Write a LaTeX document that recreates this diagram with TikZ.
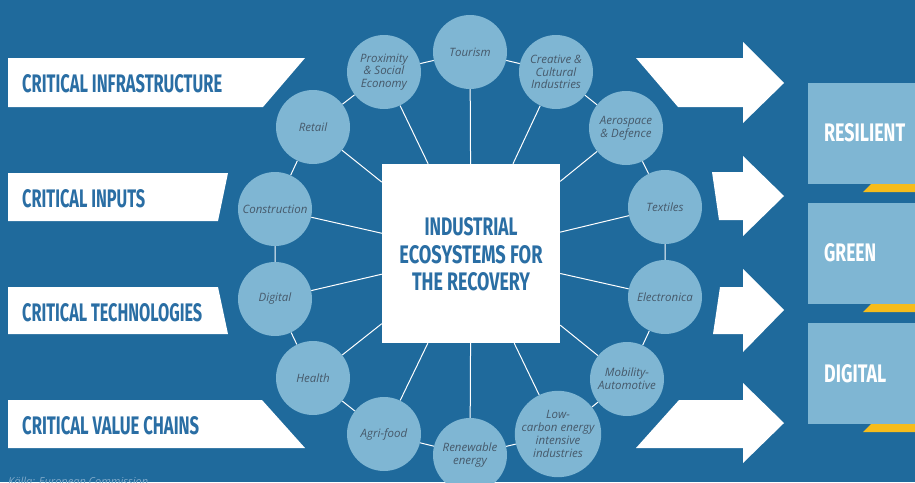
\documentclass[tikz,border=0pt]{standalone}
\usepackage{fontspec}
\setmainfont{Open Sans}
\newfontfamily\titlefont{Fira Sans}
\usepackage{graphicx}
\definecolor{bgblue}{HTML}{1F6A9C}
\definecolor{circ}{HTML}{7FB6D3}
\definecolor{txtblue}{HTML}{2A6EA4}
\definecolor{ctxt}{HTML}{46596A}
\definecolor{ylw}{HTML}{F6BC1C}
\definecolor{srccol}{HTML}{7FA9C9}
\newcommand\fitcaps[3]{\resizebox{#1pt}{#2pt}{\titlefont\bfseries #3}}
\pgfdeclarelayer{bg}
\pgfdeclarelayer{lines}
\pgfsetlayers{bg,lines,main}
\begin{document}
\begin{tikzpicture}[x=1pt,y=-1pt,
  eco/.style={circle,fill=circ,minimum size=74pt,inner sep=0pt,align=center,
    font=\fontsize{11.5}{12.8}\selectfont\itshape,text=ctxt},
  link/.style={draw=white,line width=1pt},
  banner/.style={fill=white},
  bigarrow/.style={fill=white},
  goal/.style={fill=circ},
  stripe/.style={fill=ylw},
  lbl/.style={inner sep=0pt,text=txtblue},
  wlbl/.style={inner sep=0pt,text=white,anchor=west},
  blbl/.style={inner sep=0pt,text=txtblue,anchor=west}]
\begin{pgfonlayer}{bg}
\fill[bgblue] (0,0) rectangle (915,482);
\end{pgfonlayer}
\useasboundingbox (0,0) rectangle (915,482);

% hub
\node[fill=white,minimum width=178pt,minimum height=179pt,inner sep=0pt] (hub) at (471,253.5) {};
\node[lbl] (h1) at (471,227) {\fitcaps{93}{18}{INDUSTRIAL}};
\node[lbl] (h2) at (471,254.5) {\fitcaps{143}{18}{ECOSYSTEMS FOR}};
\node[lbl] (h3) at (471,282) {\fitcaps{118}{18}{THE RECOVERY}};

% ecosystems
\node[eco] (tour) at (470,52) {Tourism};
\node[eco] (crea) at (556,72) {Creative \&\\Cultural\\Industries};
\node[eco] (aero) at (626,128) {Aerospace\\\& Defence};
\node[eco] (text) at (665,207) {Textiles};
\node[eco] (elec) at (665,297) {Electronica};
\node[eco] (mob) at (627,379) {Mobility-\\Automotive};
\node[eco] (low) at (558,434) {Low-\\carbon energy\\intensive\\industries};
\node[eco] (ren) at (470,455) {Renewable\\energy};
\node[eco] (agri) at (384,434) {Agri-food};
\node[eco] (heal) at (313,378) {Health};
\node[eco] (digi) at (275,299) {Digital};
\node[eco] (cons) at (275,209) {Construction};
\node[eco] (ret) at (313,127) {Retail};
\node[eco] (prox) at (384,72) {Proximity\\\& Social\\Economy};

\begin{pgfonlayer}{lines}
\foreach \n in {tour,crea,aero,text,elec,mob,low,ren,agri,heal,digi,cons,ret,prox}
  \draw[link] (hub) -- (\n);
\draw[link] (tour) -- (crea) -- (aero) -- (text) -- (elec) -- (mob) -- (low) -- (ren)
  -- (agri) -- (heal) -- (digi) -- (cons) -- (ret) -- (prox) -- (tour);
\end{pgfonlayer}

% left banners
\fill[banner] (8,58) -- (305,58) -- (263,107) -- (8,107) -- cycle;
\fill[banner] (8,173) -- (228,173) -- (218,221) -- (8,221) -- cycle;
\fill[banner] (8,287) -- (218,287) -- (228,334) -- (8,334) -- cycle;
\fill[banner] (8,400) -- (262,400) -- (305,448) -- (8,448) -- cycle;
\node[blbl] (b1) at (22,84) {\fitcaps{200}{18}{CRITICAL INFRASTRUCTURE}};
\node[blbl] (b2) at (22,199) {\fitcaps{123}{18}{CRITICAL INPUTS}};
\node[blbl] (b3) at (22,313) {\fitcaps{180}{18}{CRITICAL TECHNOLOGIES}};
\node[blbl] (b4) at (22,426) {\fitcaps{177}{18}{CRITICAL VALUE CHAINS}};

% right arrows
\fill[bigarrow] (636,58) -- (743,58) -- (743,42) -- (784,83) -- (743,123) -- (743,107) -- (678,107) -- cycle;
\fill[bigarrow] (712,172) -- (743,172) -- (743,156) -- (784,196) -- (743,236) -- (743,220) -- (719,220) -- cycle;
\fill[bigarrow] (720,287) -- (743,287) -- (743,269) -- (784,310) -- (743,352) -- (743,334) -- (713,334) -- cycle;
\fill[bigarrow] (679,400) -- (743,400) -- (743,383) -- (784,423) -- (743,463) -- (743,448) -- (636,448) -- cycle;

% goals
\fill[goal] (808,83) rectangle (915,184);
\fill[stripe] (871,184) -- (915,184) -- (915,192) -- (863,192) -- cycle;
\fill[goal] (808,203) rectangle (915,304);
\fill[stripe] (871,304) -- (915,304) -- (915,312) -- (863,312) -- cycle;
\fill[goal] (808,323) rectangle (915,424);
\fill[stripe] (871,424) -- (915,424) -- (915,432) -- (863,432) -- cycle;
\node[wlbl] (g1) at (824,133) {\fitcaps{81}{18}{RESILIENT}};
\node[wlbl] (g2) at (824,253) {\fitcaps{52}{18}{GREEN}};
\node[wlbl] (g3) at (824,374) {\fitcaps{62}{18}{DIGITAL}};

% source
\node[anchor=base west,inner sep=0pt,font=\fontsize{11}{13}\selectfont\itshape,text=srccol] (src) at (8,485) {Källa: European Commission};
\end{tikzpicture}
\end{document}
